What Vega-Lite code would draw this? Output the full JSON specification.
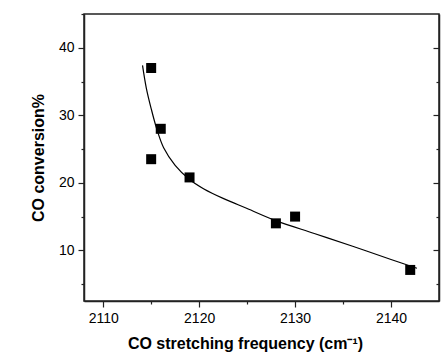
{
  "$schema": "https://vega.github.io/schema/vega-lite/v6.json",
  "autosize": "none",
  "width": 355,
  "height": 287,
  "padding": {"left": 84, "top": 14, "right": 6, "bottom": 52},
  "background": "white",
  "config": {
    "view": {"stroke": "#222", "strokeWidth": 1.5},
    "font": "Liberation Sans",
    "axis": {
      "labelFont": "Liberation Sans",
      "labelFontSize": 14,
      "labelColor": "black",
      "titleFont": "Liberation Sans",
      "titleFontSize": 16,
      "titleFontWeight": "bold",
      "titleColor": "black",
      "domainColor": "#222",
      "domainWidth": 1.5,
      "tickColor": "#222",
      "tickWidth": 1.2,
      "grid": false
    }
  },
  "datasets": {
    "points": [
      {"x": 2115, "y": 37.0},
      {"x": 2116, "y": 28.0},
      {"x": 2115, "y": 23.5},
      {"x": 2119, "y": 20.8},
      {"x": 2128, "y": 14.0},
      {"x": 2130, "y": 15.0},
      {"x": 2142, "y": 7.1}
    ],
    "curve": [
      {"x": 2114.1, "y": 37.4},
      {"x": 2114.5, "y": 34.0},
      {"x": 2115.0, "y": 31.0},
      {"x": 2115.6, "y": 27.9},
      {"x": 2116.3, "y": 25.2},
      {"x": 2117.5, "y": 22.6},
      {"x": 2119.0, "y": 20.5},
      {"x": 2120.5, "y": 19.1},
      {"x": 2122.5, "y": 17.7},
      {"x": 2125.0, "y": 16.2},
      {"x": 2128.0, "y": 14.4},
      {"x": 2132.0, "y": 12.5},
      {"x": 2136.0, "y": 10.6},
      {"x": 2140.0, "y": 8.65},
      {"x": 2142.7, "y": 7.35}
    ]
  },
  "layer": [
    {
      "data": {"name": "curve"},
      "mark": {"type": "line", "color": "black", "strokeWidth": 1.2, "interpolate": "catmull-rom", "clip": true},
      "encoding": {
        "x": {
          "field": "x", "type": "quantitative",
          "scale": {"domain": [2108, 2145], "nice": false, "zero": false},
          "axis": {
            "title": "CO stretching frequency (cm⁻¹)",
            "values": [2110, 2115, 2120, 2125, 2130, 2135, 2140],
            "labelExpr": "datum.value % 10 === 0 ? datum.label : ''",
            "format": "d",
            "tickSize": {"condition": {"test": "datum.value % 10 === 0", "value": 6}, "value": 3},
            "labelPadding": 4,
            "titlePadding": 10,
            "titleX": 161,
            "titleAlign": "center",
            "titleAnchor": "start"
          }
        },
        "y": {
          "field": "y", "type": "quantitative",
          "scale": {"domain": [2.5, 45], "nice": false, "zero": false},
          "axis": {
            "title": "CO conversion%",
            "values": [5, 10, 15, 20, 25, 30, 35, 40, 45],
            "labelExpr": "datum.value % 10 === 0 && datum.value < 45 ? datum.label : ''",
            "tickSize": {"condition": {"test": "datum.value % 10 === 0", "value": 6}, "value": 3},
            "labelPadding": 4,
            "titlePadding": 12
          }
        }
      }
    },
    {
      "data": {"name": "points"},
      "mark": {"type": "point", "shape": "square", "filled": true, "color": "black", "opacity": 1, "size": 100},
      "encoding": {
        "x": {
          "field": "x", "type": "quantitative",
          "scale": {"domain": [2108, 2145], "nice": false, "zero": false}
        },
        "y": {
          "field": "y", "type": "quantitative",
          "scale": {"domain": [2.5, 45], "nice": false, "zero": false},
          "axis": {
            "orient": "right",
            "title": null,
            "labels": false,
            "values": [5, 10, 15, 20, 25, 30, 35, 40],
            "tickSize": {"condition": {"test": "datum.value % 10 === 0", "value": -6}, "value": -3}
          }
        }
      }
    }
  ],
  "resolve": {"axis": {"y": "independent"}}
}
